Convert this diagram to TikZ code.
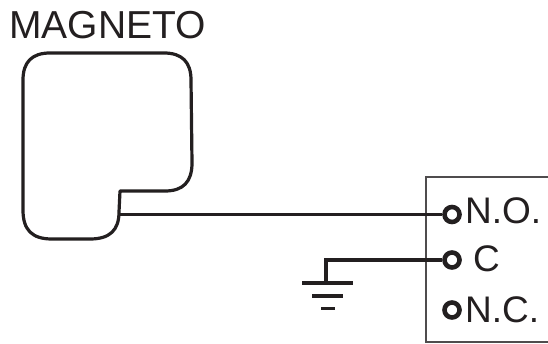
\documentclass[tikz,border=0pt]{standalone}
\usepackage{fontspec}
\setmainfont{Liberation Sans}
\definecolor{ink}{HTML}{231F20}
\tikzset{
  x=1pt,y=-1pt,
  lbl/.style={inner sep=0pt,anchor=base west,text=ink,font=\fontsize{37}{37}\selectfont},
  bigl/.style={inner sep=0pt,anchor=base west,text=ink,font=\fontsize{39}{39}\selectfont},
  term/.style={circle,draw=ink,line width=4.6pt,minimum size=15pt,inner sep=0pt},
  wire/.style={draw=ink,line width=3.8pt},
  outline/.style={draw=ink,line width=3.2pt,line join=round},
  frame/.style={draw=ink!80,line width=1.8pt},
  earth/.style={draw=ink,line width=3.6pt}
}
\begin{document}
\begin{tikzpicture}
\useasboundingbox (0,0) rectangle (548,344);
\fill[white] (0,0) rectangle (548,344);
\draw[frame] (548,177) -- (426,177) -- (426,342) -- (548,342);
\draw[outline] (120,191) -- (165,191) .. controls (183,191) and (192,182) .. (192,163)
  -- (191,80) .. controls (191,62) and (182,53) .. (164,53)
  -- (50,53) .. controls (32,53) and (23,62) .. (23,80)
  -- (23,210) .. controls (23,230) and (32,239) .. (52,239)
  -- (90,239) .. controls (110,239) and (119,230) .. (119,212) -- cycle;
\node[bigl] (title) at (9,39) {MAGNETO};
\coordinate (mag) at (120,214.5);
\coordinate (gnd) at (326,283);
\node[term] (no) at (452,214.5) {};
\node[term] (c) at (452,260) {};
\node[term] (nc) at (452,310) {};
\node[lbl] (nolabel) at (465,224) {N.O.};
\node[lbl] (clabel) at (473,272) {C};
\node[lbl] (nclabel) at (465,322) {N.C.};
\draw[wire] (mag) -- (no);
\draw[wire] (c) -| (gnd);
\draw[earth] (302,283) -- (353,283);
\draw[earth] (312,296) -- (343,296);
\draw[earth] (321,308.5) -- (335,308.5);
\end{tikzpicture}
\end{document}
